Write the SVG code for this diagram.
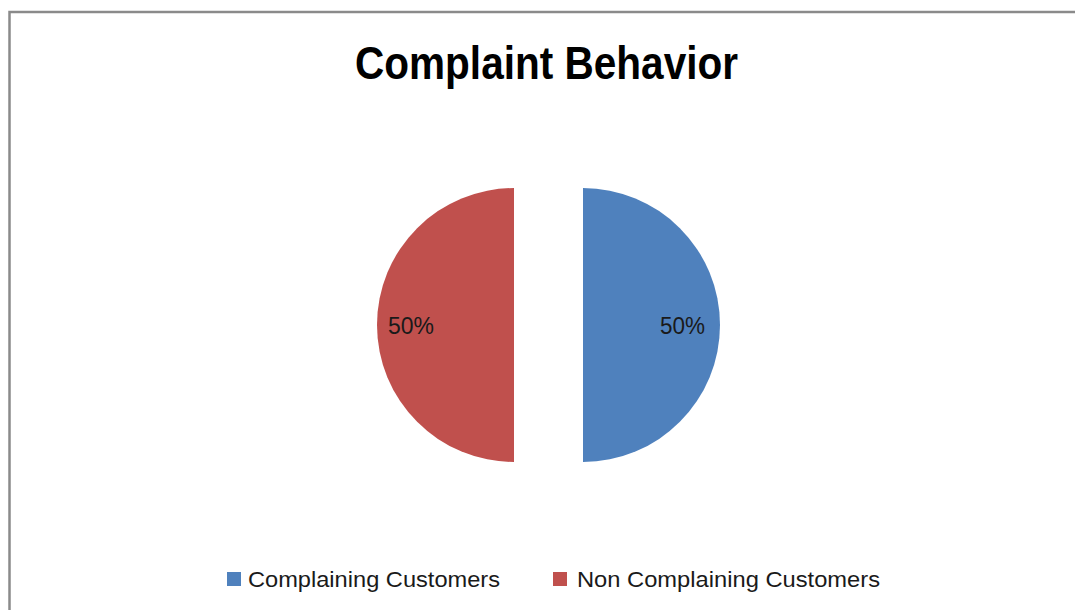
<svg xmlns="http://www.w3.org/2000/svg" width="1075" height="610" viewBox="0 0 1075 610">
  <style>
    .t { font-family: "Liberation Sans", Arial, sans-serif; fill: #000; }
    .title { font-size: 47px; font-weight: bold; }
    .lbl { font-size: 23px; fill: #1a1a1a; }
    .leg { font-size: 22.5px; fill: #1a1a1a; }
  </style>
  <rect x="0" y="0" width="1075" height="610" fill="#fff"/>
  <rect x="9.5" y="12" width="1100" height="700" fill="#fff" stroke="#8a8a8a" stroke-width="2.5"/>
  <g id="title">
    <text class="t title" x="355" y="79" textLength="383" lengthAdjust="spacingAndGlyphs">Complaint Behavior</text>
  </g>
  <g id="slice-complaining">
    <path d="M583,188 A137,137 0 0 1 583,462 Z" fill="#4F81BD"/>
    <text class="t lbl" x="660" y="334" textLength="45" lengthAdjust="spacingAndGlyphs">50%</text>
  </g>
  <g id="slice-non-complaining">
    <path d="M514,188 A137,137 0 0 0 514,462 Z" fill="#C0504D"/>
    <text class="t lbl" x="388" y="334" textLength="46" lengthAdjust="spacingAndGlyphs">50%</text>
  </g>
  <g id="legend">
    <rect x="227" y="572" width="14" height="14" fill="#4F81BD"/>
    <text class="t leg" x="248" y="587" textLength="252" lengthAdjust="spacingAndGlyphs">Complaining Customers</text>
    <rect x="553" y="572" width="14" height="14" fill="#C0504D"/>
    <text class="t leg" x="577" y="587" textLength="303" lengthAdjust="spacingAndGlyphs">Non Complaining Customers</text>
  </g>
  <g id="connectors"></g>
</svg>
